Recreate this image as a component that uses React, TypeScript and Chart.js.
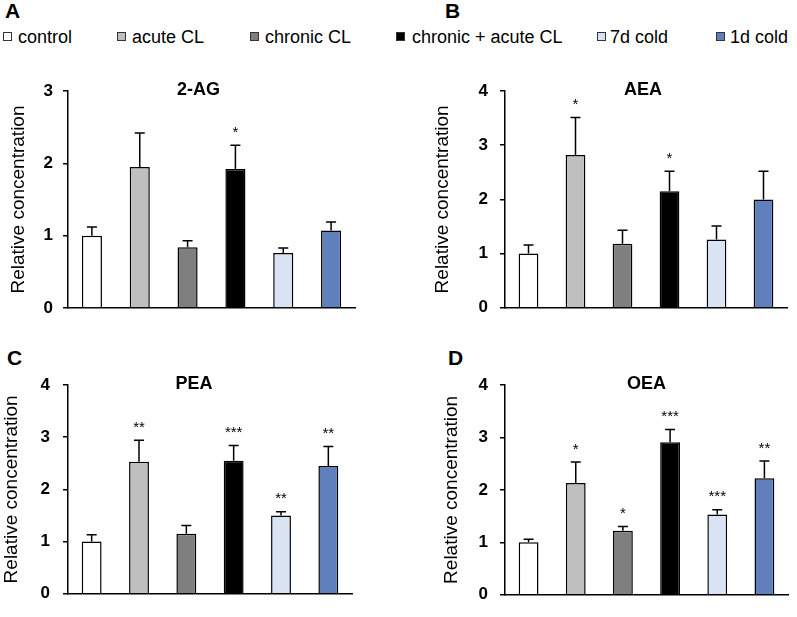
import React, { useEffect, useRef } from "react";
import { Chart, registerables } from "chart.js";

Chart.register(...registerables);

const FONT = "'Liberation Sans', Arial, Helvetica, sans-serif";

const categories = ["control", "acute CL", "chronic CL", "chronic + acute CL", "7d cold", "1d cold"];
const barColors = ["#FFFFFF", "#BFBFBF", "#7F7F7F", "#000000", "#DAE3F3", "#5F7FBD"];

const ag2Values = [1.0, 1.95, 0.84, 1.92, 0.76, 1.07];
const ag2Errors = [0.12, 0.47, 0.09, 0.33, 0.07, 0.12];
const ag2Sig = ["", "", "", "*", "", ""];

const aeaValues = [1.0, 2.82, 1.18, 2.15, 1.26, 2.0];
const aeaErrors = [0.16, 0.69, 0.25, 0.37, 0.25, 0.52];
const aeaSig = ["", "*", "", "*", "", ""];

const peaValues = [1.0, 2.53, 1.15, 2.55, 1.5, 2.45];
const peaErrors = [0.13, 0.41, 0.16, 0.29, 0.07, 0.37];
const peaSig = ["", "**", "", "***", "**", "**"];

const oeaValues = [1.0, 2.13, 1.22, 2.91, 1.53, 2.22];
const oeaErrors = [0.06, 0.4, 0.08, 0.24, 0.09, 0.33];
const oeaSig = ["", "*", "*", "***", "***", "**"];

const yTicksA = [0, 1, 2, 3];
const yTicks4 = [0, 1, 2, 3, 4];

type Panel = {
  title: string;
  values: number[];
  errors: number[];
  sig: string[];
  ticks: number[];
  left: number;
  top: number;
  w: number;
  h: number;
  axisX: number;
  areaTop: number;
  areaBottom: number;
  areaRight: number;
  titleX: number;
  tickRight: number;
  headDx: number;
};

const panels: Panel[] = [
  { title: "2-AG", values: ag2Values, errors: ag2Errors, sig: ag2Sig, ticks: yTicksA,
    left: 0, top: 40, w: 400, h: 290, axisX: 68, areaTop: 91, areaBottom: 308, areaRight: 355, titleX: 19, tickRight: 53, headDx: -13 },
  { title: "AEA", values: aeaValues, errors: aeaErrors, sig: aeaSig, ticks: yTicks4,
    left: 400, top: 40, w: 397, h: 290, axisX: 505, areaTop: 91, areaBottom: 309, areaRight: 787, titleX: 442.5, tickRight: 488, headDx: -3 },
  { title: "PEA", values: peaValues, errors: peaErrors, sig: peaSig, ticks: yTicks4,
    left: 0, top: 330, w: 400, h: 287, axisX: 68, areaTop: 385, areaBottom: 603.5, areaRight: 352, titleX: 12, tickRight: 50, headDx: -16 },
  { title: "OEA", values: oeaValues, errors: oeaErrors, sig: oeaSig, ticks: yTicks4,
    left: 400, top: 330, w: 397, h: 287, axisX: 505, areaTop: 385, areaBottom: 608, areaRight: 788, titleX: 452, tickRight: 488, headDx: 0 },
];

function PanelChart({ p }: { p: Panel }) {
  const ref = useRef<HTMLCanvasElement | null>(null);
  useEffect(() => {
    if (!ref.current) return;
    const titleFontSize = 19;
    const tickLen = 5;
    const overlay = {
      id: "overlay" + p.title,
      afterDatasetsDraw(chart: any) {
        const ctx = chart.ctx;
        const meta = chart.getDatasetMeta(0);
        const ys = chart.scales.y;
        const area = chart.chartArea;
        ctx.save();
        ctx.strokeStyle = "#000";
        ctx.lineWidth = 1.5;
        ctx.fillStyle = "#000";
        meta.data.forEach((bar: any, i: number) => {
          const x = bar.x;
          const yTop = ys.getPixelForValue(p.values[i]);
          const yCap = ys.getPixelForValue(p.values[i] + p.errors[i]);
          ctx.beginPath();
          ctx.moveTo(x, yTop);
          ctx.lineTo(x, yCap);
          ctx.moveTo(x - 5, yCap);
          ctx.lineTo(x + 5, yCap);
          ctx.stroke();
          if (p.sig[i]) {
            ctx.font = `15px ${FONT}`;
            ctx.textAlign = "center";
            ctx.textBaseline = "alphabetic";
            ctx.fillText(p.sig[i], x, yCap - 17 + 8.5);
          }
        });
        ctx.font = `bold 18px ${FONT}`;
        ctx.textAlign = "center";
        ctx.textBaseline = "middle";
        ctx.fillText(p.title, (area.left + area.right) / 2 + p.headDx, area.top - 1);
        ctx.restore();
      },
    };
    const yWidth = p.axisX - p.left;
    const chart = new Chart(ref.current, {
      type: "bar",
      data: {
        labels: categories,
        datasets: [
          {
            data: p.values,
            backgroundColor: barColors,
            borderColor: "#000",
            borderWidth: 1.5,
            barPercentage: 0.42,
            categoryPercentage: 1,
          },
        ],
      },
      options: {
        animation: false,
        responsive: false,
        devicePixelRatio: 1,
        layout: {
          padding: {
            left: 0,
            top: p.areaTop - p.top,
            bottom: p.top + p.h - p.areaBottom,
            right: p.left + p.w - p.areaRight,
          },
        },
        plugins: { legend: { display: false }, tooltip: { enabled: false } },
        scales: {
          x: {
            grid: { display: false },
            border: { display: true, color: "#000", width: 1.5 },
            ticks: { display: false },
            afterFit: (s: any) => { s.height = 0; },
          },
          y: {
            min: 0,
            max: p.ticks[p.ticks.length - 1],
            afterBuildTicks: (s: any) => { s.ticks = p.ticks.map((v) => ({ value: v })); },
            ticks: {
              color: "#000",
              font: { family: FONT, size: 17, weight: "bold" },
              padding: p.axisX - tickLen - p.tickRight,
            },
            grid: { display: true, drawOnChartArea: false, drawTicks: true, tickLength: tickLen, color: "#000", lineWidth: 1.5 },
            border: { display: true, color: "#000", width: 1.5 },
            title: {
              display: true,
              text: "Relative concentration",
              color: "#000",
              font: { family: FONT, size: titleFontSize, weight: "normal" },
              padding: { top: Math.max(0, p.titleX - p.left - (titleFontSize * 1.2) / 2), bottom: 0 },
            },
            afterFit: (s: any) => { s.width = yWidth; },
          },
        },
      } as any,
      plugins: [overlay],
    });
    return () => chart.destroy();
  }, [p]);
  return (
    <canvas
      ref={ref}
      width={p.w}
      height={p.h}
      style={{ position: "absolute", left: p.left, top: p.top, width: p.w, height: p.h }}
    />
  );
}

const legendItems = [
  { label: categories[0], color: barColors[0], box: 3, text: 18 },
  { label: categories[1], color: barColors[1], box: 117, text: 132 },
  { label: categories[2], color: barColors[2], box: 250, text: 265 },
  { label: categories[3], color: barColors[3], box: 396, text: 412 },
  { label: categories[4], color: barColors[4], box: 597, text: 610 },
  { label: categories[5], color: barColors[5], box: 716, text: 730 },
];

const panelLetters = [
  { t: "A", x: 5, y: 0 },
  { t: "B", x: 445, y: 0 },
  { t: "C", x: 7, y: 347 },
  { t: "D", x: 448, y: 347 },
];

export default function App() {
  return (
    <div style={{ position: "absolute", left: 0, top: 0, width: 797, height: 617, background: "#fff", fontFamily: FONT, overflow: "hidden" }}>
      {legendItems.map((it) => (
        <React.Fragment key={it.label}>
          <div
            style={{
              position: "absolute",
              left: it.box,
              top: 31.5,
              width: 7,
              height: 7,
              background: it.color,
              border: "1px solid #333",
            }}
          />
          <div style={{ position: "absolute", left: it.text, top: 27.5, fontSize: 18, lineHeight: "18px", color: "#000", whiteSpace: "nowrap" }}>
            {it.label}
          </div>
        </React.Fragment>
      ))}
      {panelLetters.map((l) => (
        <div key={l.t} style={{ position: "absolute", left: l.x, top: l.y, fontSize: 21, lineHeight: "21px", fontWeight: "bold", color: "#000" }}>
          {l.t}
        </div>
      ))}
      {panels.map((p) => (
        <PanelChart key={p.title} p={p} />
      ))}
    </div>
  );
}
